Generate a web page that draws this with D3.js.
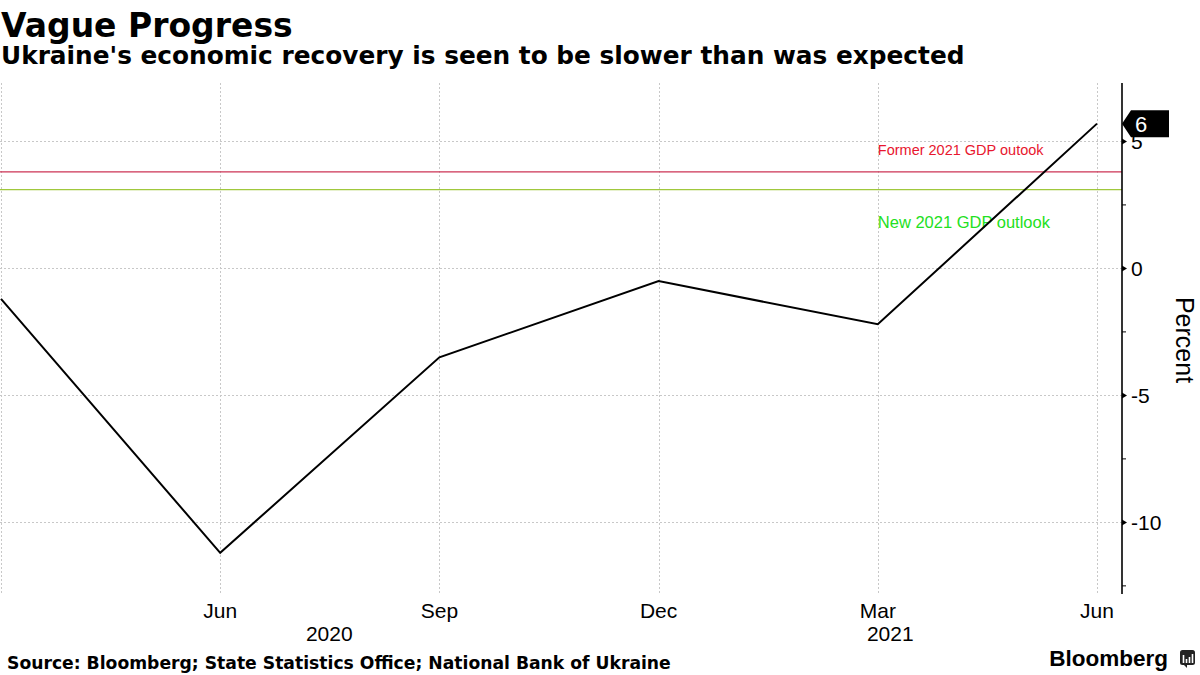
<!DOCTYPE html>
<html>
<head>
<meta charset="utf-8">
<script src="https://cdn.jsdelivr.net/npm/d3@7"></script>
<style>
  html, body { margin: 0; padding: 0; background: #fff; }
  svg { display: block; }
</style>
</head>
<body>
<svg id="chart" width="1200" height="675"></svg>
<script>
// ---- data ----
const quarters = ["Mar 2020", "Jun 2020", "Sep 2020", "Dec 2020", "Mar 2021", "Jun 2021"];
const tickLabels = ["", "Jun", "Sep", "Dec", "Mar", "Jun"];
const gdpGrowth = [-1.2, -11.2, -3.5, -0.5, -2.2, 5.7];
const years = ["2020", "2021"];
const yTicks = [5, 0, -5, -10];
const yMinorTicks = [2.5, -2.5, -7.5, -12.5];
const outlookNames = ["Former 2021 GDP outook", "New 2021 GDP outlook"];
const outlookValues = [3.8, 3.1];

const title = "Vague Progress";
const subtitle = "Ukraine's economic recovery is seen to be slower than was expected";
const source = "Source: Bloomberg; State Statistics Office; National Bank of Ukraine";

// ---- layout ----
const svg = d3.select("#chart");
const plotLeft = 1, plotRight = 1122, plotTop = 83, plotBottom = 594;
const lastX = 1097;

const x = d3.scalePoint().domain(quarters).range([plotLeft, lastX]);
const y = d3.scaleLinear().domain([-12.82, 7.3]).range([plotBottom, plotTop]);

const labelFont = "'Liberation Sans', Arial, sans-serif";
const boldFont = "'DejaVu Sans', Verdana, sans-serif";

// titles
svg.append("text").attr("x", 1).attr("y", 37)
  .attr("font-family", boldFont).attr("font-weight", "bold").attr("font-size", 33)
  .attr("fill", "#000").text(title);
svg.append("text").attr("x", 1).attr("y", 64)
  .attr("font-family", boldFont).attr("font-weight", "bold").attr("font-size", 24.8)
  .attr("fill", "#000").text(subtitle);

// gridlines
const grid = svg.append("g").attr("stroke", "#c8c8c8").attr("stroke-width", 1)
  .attr("stroke-dasharray", "2,2").attr("shape-rendering", "crispEdges");
grid.selectAll("line.h").data(yTicks).join("line")
  .attr("x1", plotLeft - 1).attr("x2", plotRight)
  .attr("y1", d => Math.round(y(d)) + 0.5).attr("y2", d => Math.round(y(d)) + 0.5);
grid.selectAll("line.v").data(quarters).join("line")
  .attr("x1", d => Math.round(x(d)) + 0.5).attr("x2", d => Math.round(x(d)) + 0.5)
  .attr("y1", plotTop).attr("y2", plotBottom);

// outlook lines
const outlookColors = ["#cc3355", "#a0c83c"];
const outlookTextColors = ["#e8162e", "#22e022"];
svg.selectAll("line.outlook").data(outlookValues).join("line")
  .attr("x1", plotLeft - 1).attr("x2", plotRight)
  .attr("y1", d => y(d)).attr("y2", d => y(d))
  .attr("stroke", (d, i) => outlookColors[i]).attr("stroke-width", 1.1);
const annX = x("Mar 2021");
svg.append("text").attr("x", annX).attr("y", y(outlookValues[0]) - 17)
  .attr("font-family", labelFont).attr("font-size", 14.5)
  .attr("fill", outlookTextColors[0]).text(outlookNames[0]);
svg.append("text").attr("x", annX).attr("y", y(outlookValues[1]) + 38)
  .attr("font-family", labelFont).attr("font-size", 16.5)
  .attr("fill", outlookTextColors[1]).text(outlookNames[1]);

// series line
const line = d3.line().x((d, i) => x(quarters[i])).y(d => y(d));
svg.append("path").datum(gdpGrowth).attr("d", line)
  .attr("fill", "none").attr("stroke", "#000").attr("stroke-width", 2)
  .attr("stroke-linejoin", "miter");

// right axis
const axisG = svg.append("g");
axisG.append("line").attr("x1", plotRight).attr("x2", plotRight)
  .attr("y1", plotTop).attr("y2", plotBottom)
  .attr("stroke", "#000").attr("stroke-width", 1.6);
axisG.selectAll("path.tick").data(yTicks).join("path")
  .attr("d", d => `M${plotRight},${y(d) - 3}L${plotRight + 5},${y(d)}L${plotRight},${y(d) + 3}Z`)
  .attr("fill", "#000");
axisG.selectAll("line.minor").data(yMinorTicks).join("line")
  .attr("x1", plotRight).attr("x2", plotRight + 4)
  .attr("y1", d => y(d)).attr("y2", d => y(d))
  .attr("stroke", "#000").attr("stroke-width", 1);
axisG.selectAll("text.tl").data(yTicks).join("text")
  .attr("x", plotRight + 9).attr("y", d => y(d) + 7.5)
  .attr("font-family", labelFont).attr("font-size", 21).attr("fill", "#000")
  .text(d => d < 0 ? "-" + Math.abs(d) : String(d));

// y axis title
svg.append("text")
  .attr("transform", `translate(1176, 340) rotate(90)`)
  .attr("text-anchor", "middle")
  .attr("font-family", labelFont).attr("font-size", 25).attr("fill", "#000")
  .text("Percent");

// x tick labels
svg.selectAll("text.xl").data(quarters).join("text")
  .attr("x", d => x(d)).attr("y", 618)
  .attr("text-anchor", "middle")
  .attr("font-family", labelFont).attr("font-size", 21).attr("fill", "#000")
  .text((d, i) => tickLabels[i]);

// year labels, centred on each year's visible span
const yearBreak = x("Dec 2020");
const yearSpans = [[plotLeft - 1, yearBreak], [yearBreak, plotRight]];
svg.selectAll("text.yl").data(years).join("text")
  .attr("x", (d, i) => (yearSpans[i][0] + yearSpans[i][1]) / 2).attr("y", 641)
  .attr("text-anchor", "middle")
  .attr("font-family", labelFont).attr("font-size", 21).attr("fill", "#000")
  .text(d => d);

// last value tag
const lastVal = gdpGrowth[gdpGrowth.length - 1];
const ty = y(lastVal);
svg.append("path")
  .attr("d", `M${plotRight},${ty}L${plotRight + 9},${ty - 13.5}L${plotRight + 47},${ty - 13.5}L${plotRight + 47},${ty + 13.5}L${plotRight + 9},${ty + 13.5}Z`)
  .attr("fill", "#000");
svg.append("text").attr("x", plotRight + 13).attr("y", ty + 8)
  .attr("font-family", labelFont).attr("font-size", 22).attr("fill", "#fff")
  .text(d3.format(".0f")(lastVal));

// source
svg.append("text").attr("x", 7).attr("y", 669)
  .attr("font-family", boldFont).attr("font-weight", "bold").attr("font-size", 17.2)
  .attr("fill", "#000").text(source);

// Bloomberg logo
svg.append("text").attr("x", 1168).attr("y", 666).attr("text-anchor", "end")
  .attr("font-family", "'Liberation Sans', Arial, sans-serif").attr("font-weight", "bold")
  .attr("font-size", 22.5).attr("fill", "#000").text("Bloomberg");
const icon = svg.append("g").attr("transform", "translate(1180,650)");
icon.append("rect").attr("width", 15).attr("height", 15).attr("rx", 2.5).attr("fill", "#222");
icon.append("path").attr("d", "M4,15 L7,18 L7,15 Z").attr("fill", "#222");
[[3.5, 8], [6.5, 4], [9.5, 6], [12.5, 9]].forEach(([bx, bh]) => {
  icon.append("rect").attr("x", bx - 0.8).attr("y", 13 - bh).attr("width", 1.6).attr("height", bh).attr("fill", "#fff");
});
</script>
</body>
</html>
